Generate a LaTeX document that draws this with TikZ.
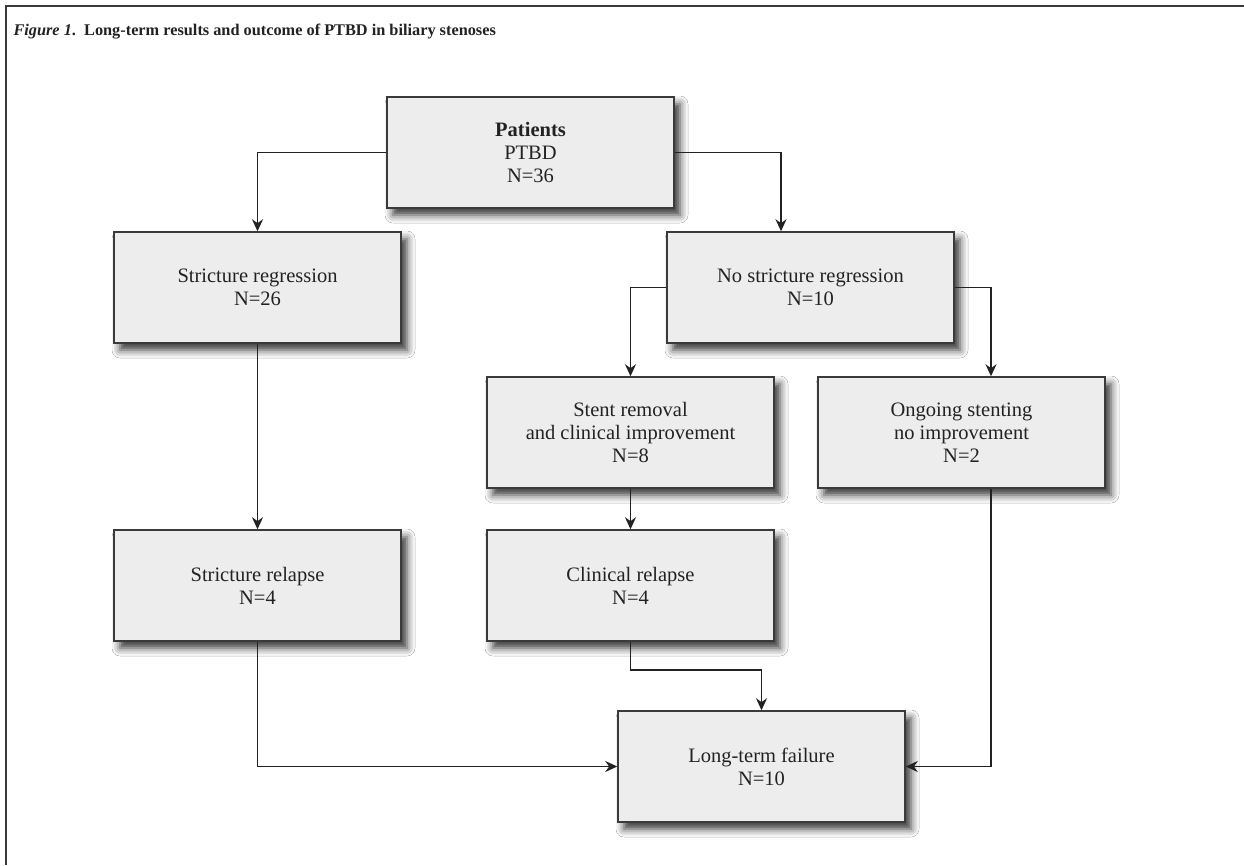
\documentclass[tikz,border=0pt]{standalone}
\usepackage{fontspec}
\setmainfont{Liberation Serif}
\usetikzlibrary{arrows.meta,shadows.blur,calc}
\definecolor{boxfill}{HTML}{EDEDED}
\definecolor{boxline}{HTML}{3A3A3A}
\definecolor{inkc}{HTML}{222222}
\tikzset{
  flowbox/.style={draw=boxline, line width=1.5pt, fill=boxfill, minimum width=287pt, minimum height=111pt,
    inner sep=0pt, align=center, text=inkc, font=\fontsize{20.5}{23}\selectfont,
    blur shadow={shadow xshift=6pt, shadow yshift=-7pt, shadow blur radius=8pt, shadow opacity=80}},
  conn/.style={draw=inkc, line width=1.7pt, -{Stealth[length=12pt,width=11pt]}},
}
\begin{document}
\begin{tikzpicture}[x=1pt,y=-1pt]
\useasboundingbox (0,0) rectangle (1244,865);
\fill[white] (0,0) rectangle (1244,865);
\draw[boxline, line width=1.8pt] (6,865) -- (6,6) -- (1244,6);
\node[anchor=base west, text=inkc, font=\fontsize{16.3}{18}\selectfont\bfseries] (title) at (10,35)
  {\textit{Figure 1}.\ \ Long-term results and outcome of PTBD in biliary stenoses};

\node[flowbox] (pat) at (530.5,152.5) {\textbf{Patients}\\PTBD\\N=36};
\node[flowbox] (sreg) at (257.5,287.5) {Stricture regression\\N=26};
\node[flowbox] (nsreg) at (810.5,287.5) {No stricture regression\\N=10};
\node[flowbox] (stent) at (630.5,432.5) {Stent removal\\and clinical improvement\\N=8};
\node[flowbox] (ongo) at (961.5,432.5) {Ongoing stenting\\no improvement\\N=2};
\node[flowbox] (srel) at (257.5,585.5) {Stricture relapse\\N=4};
\node[flowbox] (crel) at (630.5,585.5) {Clinical relapse\\N=4};
\node[flowbox] (ltf) at (761.5,766.5) {Long-term failure\\N=10};

\coordinate (nsin) at ([xshift=-29.5pt]nsreg.north);
\coordinate (ongin) at ([xshift=29.5pt]ongo.north);
\coordinate (ongout) at ([xshift=29.5pt]ongo.south);
\coordinate (cbend) at ([yshift=-28pt]crel.south);

\draw[conn] (pat.west) -| (sreg.north);
\draw[conn] (pat.east) -| (nsin);
\draw[conn] (nsreg.west) -| (stent.north);
\draw[conn] (nsreg.east) -| (ongin);
\draw[conn] (sreg.south) -- (srel.north);
\draw[conn] (stent.south) -- (crel.north);
\draw[conn] (crel.south) -- (cbend) -| (ltf.north);
\draw[conn] (srel.south) |- (ltf.west);
\draw[conn] (ongout) |- (ltf.east);
\end{tikzpicture}
\end{document}
